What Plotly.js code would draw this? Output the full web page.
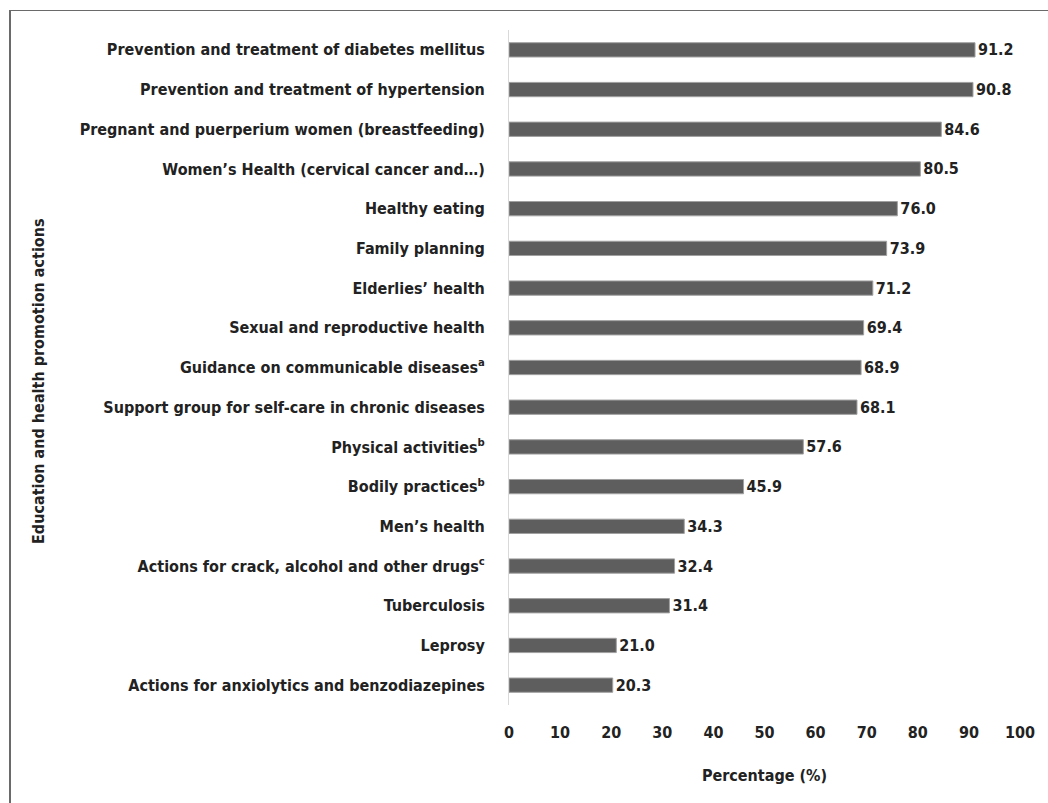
<!DOCTYPE html>
<html>
<head>
<meta charset="utf-8">
<script src="https://cdn.plot.ly/plotly-3.0.1.min.js"></script>
<style>
html,body{margin:0;padding:0;background:#fff;}
#wrap{position:relative;width:1048px;height:803px;}
#chart{position:absolute;left:0;top:0;width:1048px;height:803px;}
#frame{position:absolute;left:9px;top:10px;width:1039px;height:793px;border-top:1px solid #6a6a6a;border-left:2px solid #6a6a6a;pointer-events:none;}
</style>
</head>
<body>
<div id="wrap"><div id="chart"></div><div id="frame"></div></div>
<script>
const categories = [
  "Prevention and treatment of diabetes mellitus",
  "Prevention and treatment of hypertension",
  "Pregnant and puerperium women (breastfeeding)",
  "Women’s Health (cervical cancer and…)",
  "Healthy eating",
  "Family planning",
  "Elderlies’ health",
  "Sexual and reproductive health",
  "Guidance on communicable diseases<sup>a</sup>",
  "Support group for self-care in chronic diseases",
  "Physical activities<sup>b</sup>",
  "Bodily practices<sup>b</sup>",
  "Men’s health",
  "Actions for crack, alcohol and other drugs<sup>c</sup>",
  "Tuberculosis",
  "Leprosy",
  "Actions for anxiolytics and benzodiazepines"
];
const percentages = [91.2, 90.8, 84.6, 80.5, 76.0, 73.9, 71.2, 69.4, 68.9, 68.1, 57.6, 45.9, 34.3, 32.4, 31.4, 21.0, 20.3];
const xTicks = [0, 10, 20, 30, 40, 50, 60, 70, 80, 90, 100];

const FONT = "'DejaVu Sans Condensed', 'Liberation Sans Narrow', sans-serif";
const FS = 16;

const trace = {
  type: 'bar',
  orientation: 'h',
  y: categories,
  x: percentages,
  marker: {color: '#5e5e5e', line: {color: '#a0a0a0', width: 1}},
  text: percentages.map(v => v.toFixed(1)),
  textposition: 'outside',
  constraintext: 'none',
  cliponaxis: false,
  textfont: {family: FONT, size: FS, color: '#222222', weight: 'bold'},
  hoverinfo: 'none'
};

const layout = {
  width: 1048,
  height: 803,
  paper_bgcolor: '#ffffff',
  plot_bgcolor: '#ffffff',
  margin: {l: 509, r: 28, t: 30, b: 98},
  showlegend: false,
  bargap: 0.64,
  font: {family: FONT, size: FS, color: '#222222', weight: 'bold'},
  xaxis: {
    range: [0, 100],
    tickvals: xTicks,
    ticktext: xTicks.map(String),
    showgrid: false,
    zeroline: false,
    showline: false,
    ticks: '',
    ticklabelstandoff: 16,
    tickfont: {family: FONT, size: FS, color: '#222222', weight: 'bold'},
    title: {text: 'Percentage (%)', standoff: 28, font: {family: FONT, size: FS, color: '#222222', weight: 'bold'}},
    fixedrange: true
  },
  yaxis: {
    autorange: 'reversed',
    showgrid: false,
    zeroline: false,
    showline: true,
    linecolor: '#d9d9d9',
    linewidth: 1,
    ticks: '',
    ticklabelstandoff: 20,
    tickfont: {family: FONT, size: FS, color: '#222222', weight: 'bold'},
    fixedrange: true
  },
  annotations: [{
    text: 'Education and health promotion actions',
    xref: 'paper', yref: 'paper',
    x: (38 - 509) / 511, y: 0.48,
    xanchor: 'center', yanchor: 'middle',
    textangle: -90,
    showarrow: false,
    font: {family: FONT, size: FS, color: '#222222', weight: 'bold'}
  }]
};

Plotly.newPlot('chart', [trace], layout, {displayModeBar: false, staticPlot: true});
</script>
</body>
</html>
